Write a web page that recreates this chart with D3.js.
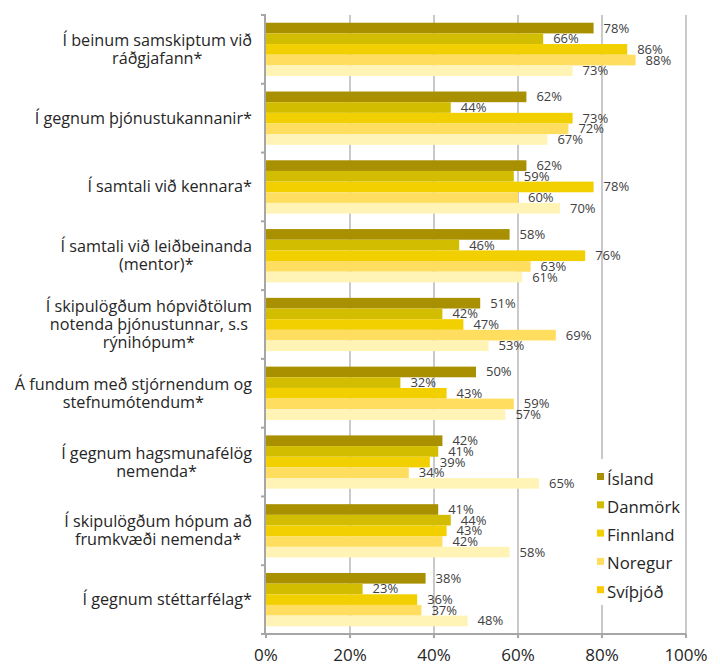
<!DOCTYPE html>
<html><head><meta charset="utf-8">
<script src="https://cdn.jsdelivr.net/npm/d3@7"></script>
<style>body{margin:0;background:#fff}svg{display:block}text{font-family:"Open Sans",sans-serif}</style>
</head><body><svg id="c" width="720" height="664"></svg>
<script>
const categories = [
  ["Í beinum samskiptum við","ráðgjafann*"],
  ["Í gegnum þjónustukannanir*"],
  ["Í samtali við kennara*"],
  ["Í samtali við leiðbeinanda","(mentor)*"],
  ["Í skipulögðum hópviðtölum","notenda þjónustunnar, s.s","rýnihópum*"],
  ["Á fundum með stjórnendum og","stefnumótendum*"],
  ["Í gegnum hagsmunafélög","nemenda*"],
  ["Í skipulögðum hópum að","frumkvæði nemenda*"],
  ["Í gegnum stéttarfélag*"]
];
const seriesNames = ["Ísland","Danmörk","Finnland","Noregur","Svíþjóð"];
const island  = [78,62,62,58,51,50,42,41,38];
const danmork = [66,44,59,46,42,32,41,44,23];
const finnland= [86,73,78,76,47,43,39,43,36];
const noregur = [88,72,60,63,69,59,34,42,37];
const svithjod= [73,67,70,61,53,57,65,58,48];
const seriesValues = [island,danmork,finnland,noregur,svithjod];
const barColors = ["#A89000","#D3BD00","#F2D000","#FFDD5E","#FFF4B6"];
const legendColors = ["#A89000","#D3BD00","#F2D000","#FFDD5E","#FDC800"];
const xTicks = [0,20,40,60,80,100];

const svg = d3.select("#c");
const x = d3.scaleLinear().domain([0,100]).range([266,686]);
const y = d3.scaleBand().domain(d3.range(categories.length)).range([15,634]).paddingInner(0.225).paddingOuter(0.1125);
const ys = d3.scaleBand().domain(d3.range(seriesNames.length)).range([0,y.bandwidth()]);
const grid = "#A6A6A6";

// gridlines
svg.append("g").selectAll("line").data(xTicks.filter(d=>d>0)).join("line")
  .attr("x1",d=>x(d)).attr("x2",d=>x(d)).attr("y1",15).attr("y2",634)
  .attr("stroke",grid).attr("stroke-width",1.2);

// bars
const gGroups = svg.append("g").selectAll("g").data(categories).join("g")
  .attr("transform",(d,i)=>`translate(0,${y(i)})`);
gGroups.each(function(d,i){
  const g = d3.select(this);
  seriesValues.forEach((vals,s)=>{
    g.append("rect").attr("x",x(0)).attr("y",ys(s)).attr("width",x(vals[i])-x(0))
      .attr("height",ys.bandwidth()).attr("fill",barColors[s]);
  });
  seriesValues.forEach((vals,s)=>{
    g.append("text").attr("x",x(vals[i])+10).attr("y",ys(s)+ys.bandwidth()/2+4.5)
      .attr("font-size",13).attr("fill","#404040").text(vals[i]+"%");
  });
});

// left axis
svg.append("line").attr("x1",265).attr("x2",265).attr("y1",14).attr("y2",634).attr("stroke",grid).attr("stroke-width",2);
const bounds = d3.range(categories.length+1).map(i=> i<categories.length ? y(i)-y.step()*y.paddingInner()/2 : 634);
svg.append("g").selectAll("line").data(bounds).join("line")
  .attr("x1",261).attr("x2",265).attr("y1",d=>d).attr("y2",d=>d).attr("stroke",grid).attr("stroke-width",2);
// bottom axis
svg.append("line").attr("x1",264).attr("x2",686).attr("y1",634).attr("y2",634).attr("stroke",grid).attr("stroke-width",2);
svg.append("g").selectAll("line").data(xTicks).join("line")
  .attr("x1",d=>x(d)).attr("x2",d=>x(d)).attr("y1",634).attr("y2",638).attr("stroke",grid).attr("stroke-width",2);
svg.append("g").selectAll("text").data(xTicks).join("text")
  .attr("x",d=>x(d)).attr("y",661).attr("text-anchor","middle").attr("font-size",17).attr("fill","#262626")
  .text(d=>d+"%");

// category labels
const lh = 18;
categories.forEach((lines,i)=>{
  const cy = y(i)+y.bandwidth()/2;
  const t = svg.append("text").attr("font-size",16.2).attr("fill","#262626");
  lines.forEach((ln,k)=>{
    t.append("tspan").attr("y",cy+(k-(lines.length-1)/2)*lh+5.5).text(ln);
  });
  let w = 0;
  t.selectAll("tspan").each(function(){ w=Math.max(w,this.getComputedTextLength()); });
  const cx = 252 - w/2;
  t.attr("text-anchor","middle").selectAll("tspan").attr("x",cx);
});

// legend
svg.append("rect").attr("x",591).attr("y",459).attr("width",93).attr("height",146).attr("fill","#fff");
const lg = svg.append("g").selectAll("g").data(seriesNames).join("g")
  .attr("transform",(d,i)=>`translate(597,${479+i*28.3})`);
lg.append("rect").attr("x",0).attr("y",-6).attr("width",7).attr("height",7).attr("fill",(d,i)=>legendColors[i]);
lg.append("text").attr("x",10).attr("y",5.5).attr("font-size",16.8).attr("fill","#262626").text(d=>d);
</script></body></html>
